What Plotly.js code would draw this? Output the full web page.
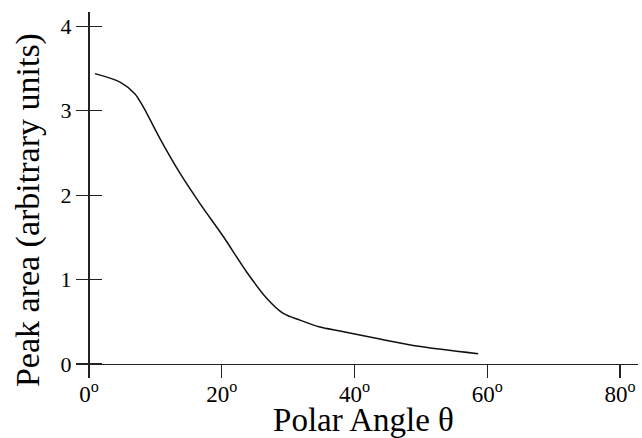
<!DOCTYPE html>
<html>
<head>
<meta charset="utf-8">
<script src="https://cdn.plot.ly/plotly-3.0.1.min.js"></script>
<style>html,body{margin:0;padding:0;background:#fff;}#chart{width:642px;height:438px;}</style>
</head>
<body>
<div id="chart"></div>
<script>
// Polar angle (degrees) and peak area (arbitrary units)
const polarAngle = [0.9, 4.67, 6.93, 8.18, 10.69, 13.7, 16.72, 20.23, 23.75, 26.76, 29.26, 31.78, 34.79, 37.8, 43.83, 49.35, 58.63];
const peakArea   = [3.44, 3.34, 3.2, 3.045, 2.67, 2.26, 1.9, 1.51, 1.09, 0.78, 0.6, 0.52, 0.438, 0.391, 0.296, 0.213, 0.122];

const xTickVals = [0, 20, 40, 60, 80];
const xTickText = ['0<sup>o</sup>', '20<sup>o</sup>', '40<sup>o</sup>', '60<sup>o</sup>', '80<sup>o</sup>'];
const yTickVals = [0, 1, 2, 3, 4];
const yTickText = ['0', '1', '2', '3', '4'];

const xTitle = 'Polar Angle θ';
const yTitle = 'Peak area (arbitrary units)';

const FONT = 'Liberation Serif, Times New Roman, serif';
const xRange = [0, 82.7];
const yRange = [0, 4.17];

const traces = [
  {
    x: polarAngle, y: peakArea, type: 'scatter', mode: 'lines',
    line: {color: '#111', width: 1.5, shape: 'spline', smoothing: 0.8},
    hoverinfo: 'skip', showlegend: false
  }
];

const layout = {
  width: 642, height: 438,
  margin: {l: 89, r: 4, t: 12, b: 74},
  paper_bgcolor: '#fff', plot_bgcolor: '#fff',
  font: {family: FONT, color: '#000', size: 22},
  showlegend: false,
  xaxis: {
    range: xRange, showgrid: false,
    zeroline: true, zerolinecolor: '#222', zerolinewidth: 1.3,
    showline: true, linecolor: '#222', linewidth: 1.3,
    ticks: 'outside', ticklen: 13, tickwidth: 1.2, tickcolor: '#222',
    tickmode: 'array', tickvals: xTickVals, ticktext: xTickText,
    tickfont: {family: FONT, size: 23, color: '#000'},
    ticklabelstandoff: -4,
    title: {text: xTitle, font: {family: FONT, size: 33, color: '#000'}, standoff: 10},
    automargin: false,
    fixedrange: true
  },
  yaxis: {
    range: yRange, showgrid: false, zeroline: false,
    anchor: 'free', position: 0.0237,
    showline: false,
    ticks: 'outside', ticklen: 26, tickwidth: 1.3, tickcolor: '#222',
    tickmode: 'array', tickvals: yTickVals, ticktext: yTickText,
    tickfont: {family: FONT, size: 22, color: '#000'},
    automargin: false,
    fixedrange: true
  },
  annotations: [{
    text: yTitle, textangle: -90,
    xref: 'paper', yref: 'paper', x: -0.111, y: 0.4375,
    xanchor: 'center', yanchor: 'middle', showarrow: false,
    font: {family: FONT, size: 34, color: '#000'}
  }]
};

Plotly.newPlot('chart', traces, layout, {staticPlot: true, displayModeBar: false});
</script>
</body>
</html>
